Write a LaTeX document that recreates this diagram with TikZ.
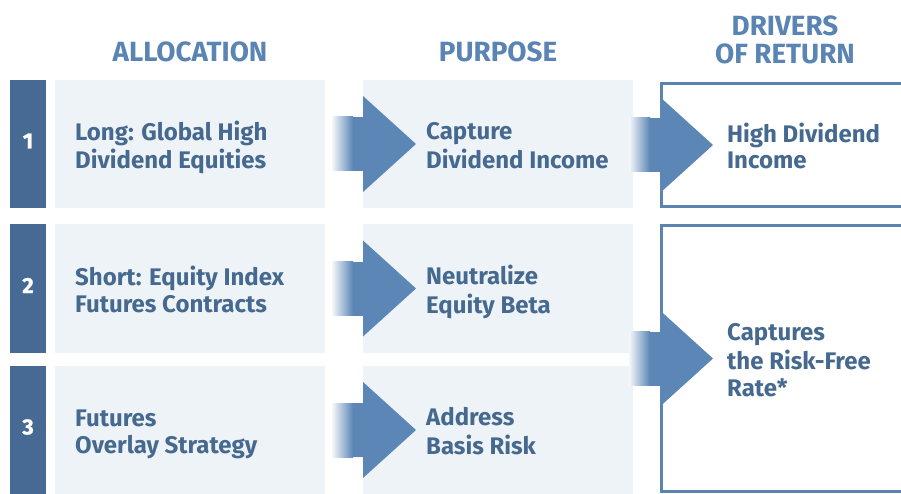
\documentclass[tikz,border=0pt]{standalone}
\usepackage{fontspec}
\setmainfont{Fira Sans}
\newfontfamily\digitfont[FakeBold=1.2]{Fira Sans Bold}
\usetikzlibrary{calc}
\definecolor{barc}{HTML}{466A93}
\definecolor{boxc}{HTML}{EEF3F8}
\definecolor{txtc}{HTML}{46698F}
\definecolor{hdrc}{HTML}{5A84B3}
\definecolor{arrc}{HTML}{5B86B6}
\definecolor{brdc}{HTML}{5B83B0}
\tikzset{
  numbar/.style={fill=barc, minimum width=36pt, inner sep=0pt, outer sep=0pt},
  numtxt/.style={inner sep=0pt, text=white, font=\digitfont\fontsize{22}{24}\selectfont, yshift=3pt},
  cell/.style={fill=boxc, minimum width=270pt, inner sep=0pt, outer sep=0pt},
  drv/.style={draw=brdc, line width=3pt, fill=white, minimum width=243.5pt, inner sep=0pt},
  body/.style={anchor=west, align=left, inner sep=0pt, text=txtc,
    font=\bfseries\fontsize{24}{26.7}\selectfont, yshift=-4.7pt},
  hdr/.style={text=hdrc, inner sep=0pt, align=center,
    font=\bfseries\fontsize{27.8}{26.3}\selectfont},
}
\newcommand\fatarrow[1]{%
  \shade[left color=arrc!6, right color=arrc] ($(#1)+(-31,-27)$) rectangle ($(#1)+(-10,27)$);
  \fill[arrc] ($(#1)+(-10.5,-27)$) rectangle ($(#1)+(0.5,27)$);
  \fill[arrc] ($(#1)+(0,-48)$) -- ($(#1)+(53,0)$) -- ($(#1)+(0,48)$) -- cycle;}
\begin{document}
\begin{tikzpicture}[x=1pt,y=-1pt]
\useasboundingbox (0,0) rectangle (901,494);
\clip (0,0) rectangle (901,494);
% headers
\node[hdr, anchor=base] (h1) at (190,61.7) {ALLOCATION};
\node[hdr, anchor=base] (h2) at (498,61.7) {PURPOSE};
\node[hdr] (h3) at (785,43.6) {\strut DRIVERS\\OF RETURN\strut};
% number bars
\node[numbar, minimum height=128pt] (n1) at (28,144) {};
\node[numbar, minimum height=129pt] (n2) at (28,288.5) {};
\node[numbar, minimum height=128pt] (n3) at (28,430) {};
\node[numtxt] (k1) at (n1.center) {1};
\node[numtxt] (k2) at (n2.center) {2};
\node[numtxt] (k3) at (n3.center) {3};
% allocation cells
\node[cell, minimum height=128pt] (a1) at (190,144) {};
\node[cell, minimum height=129pt] (a2) at (190,288.5) {};
\node[cell, minimum height=128pt] (a3) at (190,430) {};
% purpose cells
\node[cell, minimum height=128pt] (p1) at (498,144) {};
\node[cell, minimum height=129pt] (p2) at (498,288.5) {};
\node[cell, minimum height=128pt] (p3) at (498,430) {};
% drivers boxes
\node[drv, minimum height=123pt] (d1) at (783.25,145) {};
\node[drv, minimum height=266pt] (d2) at (783.25,358.5) {};
% arrows
\fatarrow{p1.west}
\fatarrow{p2.west}
\fatarrow{p3.west}
\fatarrow{d1.west}
\fatarrow{d2.west}
% texts
\node[body] (ta1) at ($(a1.west)+(20,0)$) {\strut Long: Global High\\Dividend Equities\strut};
\node[body] (ta2) at ($(a2.west)+(20,0)$) {\strut Short: Equity Index\\Futures Contracts\strut};
\node[body] (ta3) at ($(a3.west)+(20,0)$) {\strut Futures\\Overlay Strategy\strut};
\node[body] (tp1) at ($(p1.west)+(63,0)$) {\strut Capture\\Dividend Income\strut};
\node[body] (tp2) at ($(p2.west)+(63,0)$) {\strut Neutralize\\Equity Beta\strut};
\node[body] (tp3) at ($(p3.west)+(63,0)$) {\strut Address\\Basis Risk\strut};
\node[body] (td1) at ($(d1.west)+(67,0)$) {\strut High Dividend\\Income\strut};
\node[body] (td2) at ($(d2.west)+(67,0)$) {\strut Captures\\the Risk-Free\\Rate*\strut};
\end{tikzpicture}
\end{document}
